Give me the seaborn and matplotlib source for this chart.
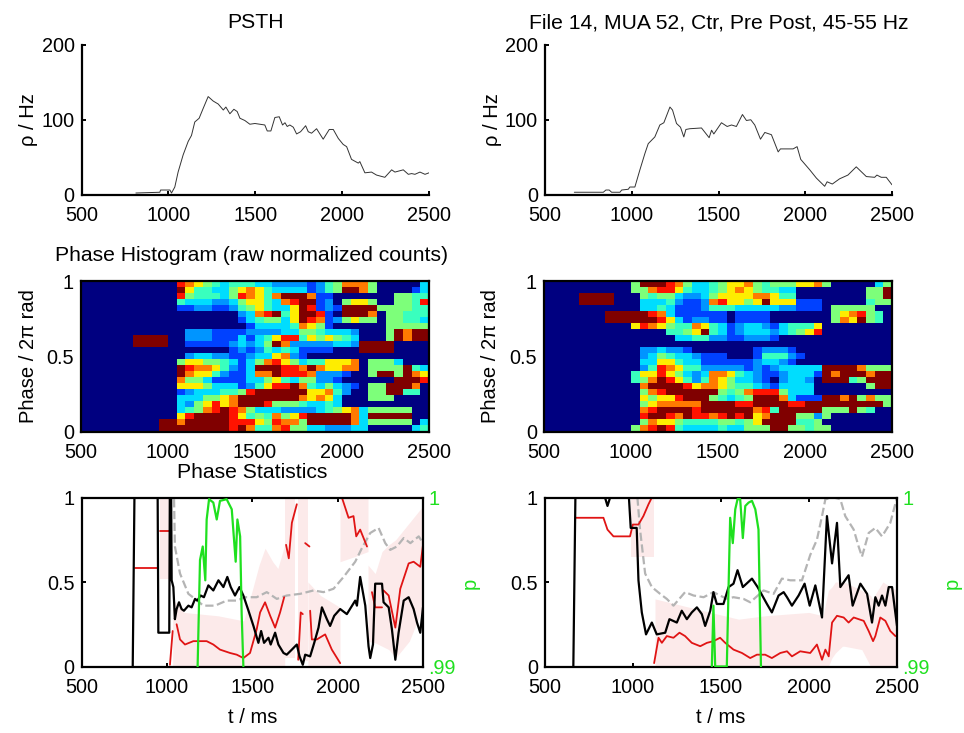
import numpy as np
import matplotlib
matplotlib.use("Agg")
import matplotlib.pyplot as plt
import seaborn as sns

# ---------- data ----------
psth_l_t = [813,951,955,1009,1018,1037,1056,1085,1114,1133,1152,1177,1200,1229,1258,1287,1316,1331,1354,1377,1396,1412,1440,1469,1498,1555,1569,1590,1613,1638,1657,1671,1684,1699,1719,1738,1761,1790,1805,1824,1853,1891,1926,1949,1978,2006,2026,2054,2093,2102,2131,2169,2198,2246,2285,2304,2352,2381,2400,2419,2448,2477,2500]
psth_l_r = [2,3,6,6,2,10,30,53,71,79,97,102,115,131,125,121,113,117,108,114,111,102,99,94,95,93,85,85,103,104,93,96,91,93,90,81,84,92,84,82,88,74,87,87,75,67,64,47,42,44,29,30,26,23,33,30,33,27,28,27,30,27,29]
psth_r_t = [669,836,851,870,884,932,942,980,989,1018,1047,1076,1095,1133,1162,1185,1220,1235,1258,1281,1300,1312,1335,1402,1446,1460,1473,1517,1550,1575,1603,1638,1661,1686,1709,1742,1767,1805,1844,1857,1930,1953,1974,2026,2064,2112,2126,2156,2198,2246,2294,2352,2400,2413,2438,2467,2500]
psth_r_r = [3,3,6,6,3,3,6,7,10,10,33,55,68,77,93,96,117,113,95,90,77,87,88,89,76,86,81,96,91,93,91,107,99,100,93,74,83,80,57,61,61,64,47,33,22,11,17,14,21,26,37,24,23,26,23,23,13]

# normalized count per digit class used in the rows below
hist_levels = [0, .19, .27, .34, .42, .50, .66, .78, .89, 1.0]
hist_l = [
"0000000000 0876543444 3322221245 7775000003",
"0000000000 0964433567 6433331245 9975000013",
"0000000000 0854443587 6479997110 0000005544",
"0000000000 0433322356 6437899120 5665005548",
"0000000000 0112211245 6433698121 9999555544",
"0000000000 0000000023 7894699810 9997055444",
"0000000000 0000000013 4553698712 5655055443",
"0000000000 0000000001 3333476510 0000055555",
"0000000000 0022211112 2223355433 3200059799",
"0000009999 0022211131 3468846565 4300059799",
"0000009999 0011111232 3597222223 3299990000",
"0000000000 0000000121 2434311110 0099990000",
"0000000000 0023322112 3367210000 0000000000",
"0000000000 0566554313 5786534466 6705553000",
"0000000000 0987764213 9998879766 7705555943",
"0000000000 0976642113 7798887222 1005995976",
"0000000000 0755311113 3564355221 0000009998",
"0000000000 0666533312 4688974353 2105599970",
"0000000000 0123334458 9999996674 2005599440",
"0000000000 0333556799 9999976763 0005550000",
"0000000000 0325686799 9855543343 0000000000",
"0000000000 0345789875 3332222345 6735555500",
"0000000000 0689999864 5475689999 9739999900",
"0000000009 9799999888 6587759999 9735555503",
"0000000009 9999999897 4478553322 2330000034",
]
hist_r = [
"0000000000 5999875334 5667545556 6750000035",
"0000000000 5578864334 5676544330 0000000559",
"0000999900 0545532235 6666776440 0000000559",
"0000999900 0333421127 8665696661 1100000455",
"0000000000 0334311124 4433333221 1105555500",
"0000000999 9987311111 1011110000 0005678540",
"0000000999 9998631221 1011110000 0005769540",
"0000000000 6876544764 3123321344 4600000000",
"0000000000 0000445694 3123332345 6800000000",
"0000000000 0000033442 2112221000 0000000000",
"0000000000 0000000000 0000000000 0000000000",
"0000000000 0223221000 0000122210 0000000000",
"0000000000 0235433211 1000144421 0000000000",
"0000000000 0336643311 1111233210 0000000000",
"0000000000 0248764422 2221212333 3399997555",
"0000000000 4668653237 7643211233 3197999799",
"0000000000 4579864247 6533210233 2099945999",
"0000000000 0799998677 6544321333 3000000599",
"0000000000 0578999999 5457888533 3000000000",
"0000000000 0656689995 4345999731 1199795755",
"0000000000 0567777799 9988999988 9999999995",
"0000000000 0789999899 9999784999 9955595400",
"0000000000 0899879887 8989679995 5250000000",
"0000000000 0576654444 5545699994 4500000000",
"0000000000 5789843333 4335559955 4550000000",
]

black_l_t = [800,812,945,950,1014,1018,1024,1028,1038,1047,1057,1071,1086,1100,1126,1145,1165,1178,1198,1217,1243,1272,1302,1331,1354,1374,1399,1425,1448,1478,1507,1536,1552,1569,1595,1608,1634,1653,1683,1702,1732,1761,1777,1796,1810,1839,1863,1888,1908,1937,1956,1980,2015,2054,2103,2113,2132,2162,2181,2191,2207,2220,2260,2269,2299,2318,2338,2357,2387,2416,2445,2465,2484,2500]
black_l_v = [0,1.2,1.2,.2,.2,1.2,1.2,.51,.47,.28,.34,.38,.34,.33,.36,.35,.40,.39,.42,.41,.48,.45,.51,.47,.53,.47,.42,.47,.42,.33,.24,.14,.21,.14,.17,.13,.20,.13,.08,.07,.10,.13,.06,.01,.07,.06,.14,.23,.35,.28,.24,.30,.34,.31,.39,.36,.53,.36,.12,.05,.13,.49,.49,.38,.35,.22,.04,.20,.39,.41,.34,.26,.20,.35]
red_l_segs = [
    ([812,950],[.58,.58]),
    ([960,1014],[.80,.80]),
    ([1018,1034],[.01,.21]),
    ([1057,1077,1106,1155,1184,1233,1272,1311,1370,1409,1448,1487,1526,1546,1575,1605,1634,1663,1687],[.25,.16,.13,.15,.15,.15,.13,.10,.08,.07,.05,.08,.22,.32,.38,.30,.23,.32,.41]),
    ([1698,1714,1732,1761],[.72,.64,.85,.96]),
    ([1769,1784,1796],[.04,.32,.31]),
    ([1839,1849,1878,1927,1966,2015],[.33,.16,.16,.19,.10,.02]),
    ([1810,1835],[.73,.71]),
    ([2025,2064,2093,2109,2132,2172],[1.0,.88,.89,.77,.81,.71]),
    ([2201,2220,2260],[.44,.35,.35]),
    ([2269,2299,2338,2367,2416,2445,2484,2500],[.45,.42,.23,.46,.61,.62,.59,.72]),
]
band_l_segs = [
    ([960,1014],[.52,.52],[1,1]),
    ([1034,1100,1300,1450,1500,1540,1575,1620,1650,1690],[0,0,0,0,0,0,0,0,0,0],[.40,.32,.30,.27,.45,.60,.70,.62,.58,.72]),
    ([1692,1750],[.05,.05],[1,1]),
    ([1768,1826],[.03,.03],[1,1]),
    ([1826,1900,2014],[0,0,0],[.50,.42,.35]),
    ([2014,2100,2178],[.62,.65,.68],[1,1,1]),
    ([2178,2220,2260,2300,2340,2420,2500],[.15,.14,.12,.10,.05,.15,.35],[.60,.55,.68,.72,.75,.85,.95]),
]
grey_l_t = [1042,1047,1077,1126,1165,1214,1282,1350,1409,1458,1526,1585,1644,1702,1781,1859,1917,1976,2035,2103,2142,2191,2240,2279,2308,2347,2387,2426,2475,2500]
grey_l_v = [.99,.71,.55,.43,.40,.36,.36,.39,.39,.41,.41,.44,.40,.42,.43,.45,.44,.46,.53,.62,.70,.79,.82,.73,.69,.71,.76,.73,.77,.73]
green_l_t = [1180,1194,1210,1225,1233,1247,1272,1292,1311,1350,1380,1403,1413,1429,1438,1448]
green_l_p = [.990,.9963,.9971,.9951,.9987,.9999,.9997,.9987,.9998,.9999,.9993,.9962,.9987,.9977,.9931,.990]

black_r_t = [661,675,835,841,855,870,880,974,987,1021,1031,1050,1074,1107,1135,1183,1207,1249,1277,1306,1334,1363,1391,1410,1439,1457,1476,1514,1543,1571,1594,1624,1676,1708,1761,1789,1827,1856,1875,1903,1941,1975,2004,2036,2074,2102,2131,2159,2178,2225,2248,2292,2330,2358,2377,2396,2415,2434,2453,2472,2500]
black_r_v = [0,1.2,1.2,1.0,.95,1.0,1.2,1.05,.82,.82,.51,.32,.19,.26,.19,.20,.28,.26,.33,.28,.32,.35,.31,.24,.33,.44,.37,.37,.47,.49,.57,.47,.52,.47,.37,.32,.42,.44,.41,.36,.42,.49,.36,.48,.29,.89,.61,.85,.47,.54,.36,.49,.43,.26,.41,.36,.42,.36,.47,.47,.24]
red_r_segs = [
    ([675,832,855,889,983,999,1031,1059,1088,1107],[.88,.88,.81,.77,.77,.84,.84,.89,.96,1.0]),
    ([1120,1145,1164,1192,1230,1264,1296,1334,1382,1420,1457,1495,1524,1571,1619,1666,1704,1751,1789,1837,1875,1903,1950,2007,2045,2074,2093,2112,2131,2159,2197,2225,2254,2311,2339,2364,2377,2405,2434,2462,2491],
     [.02,.17,.14,.18,.17,.20,.18,.14,.12,.14,.15,.17,.14,.10,.08,.05,.07,.07,.05,.08,.09,.06,.09,.08,.13,.04,.10,.06,.26,.30,.29,.26,.29,.27,.21,.15,.18,.29,.27,.21,.18]),
]
band_r_segs = [
    ([990,1120],[.65,.65],[1,1]),
    ([1125,1400,1600,1750,2000,2080,2110,2130,2150,2170,2190,2200,2300,2350,2360,2420,2450,2500],
     [0,0,0,0,0,0,0,.05,.08,.10,.12,.12,.10,.0,.0,.0,.0,.0],
     [.40,.33,.28,.30,.32,.30,.45,.47,.50,.50,.50,.50,.45,.42,.40,.50,.48,.45]),
]
grey_r_t = [1025,1040,1069,1107,1154,1192,1230,1296,1344,1401,1457,1533,1571,1628,1666,1742,1799,1846,1894,1960,2007,2045,2074,2093,2140,2178,2206,2254,2282,2301,2339,2377,2415,2462,2500]
grey_r_v = [1.0,.81,.55,.47,.43,.40,.36,.44,.42,.41,.44,.40,.41,.40,.38,.45,.43,.52,.51,.51,.66,.75,.89,.99,1.0,.99,.89,.81,.71,.65,.79,.82,.77,.85,1.0]
green_r_t = [1448,1457,1467,1533,1543,1552,1567,1581,1594,1609,1624,1638,1657,1676,1695,1713,1727]
green_r_p = [.990,.9936,.990,.990,.9947,.9988,.9973,.9993,.9999,.9999,.9976,.9995,.9997,.9998,.9993,.9981,.990]

x_ticks = [500,1000,1500,2000,2500]
title_left = "PSTH"
title_right = "File 14, MUA 52, Ctr, Pre Post, 45-55 Hz"
title_hist = "Phase Histogram (raw normalized counts)"
title_stat = "Phase Statistics"

# ---------- style ----------
sns.set_theme(style="white")
plt.rcParams['font.family'] = ['Liberation Sans', 'DejaVu Sans']
plt.rcParams['text.color'] = 'black'
plt.rcParams['axes.labelcolor'] = 'black'
plt.rcParams['xtick.color'] = 'black'
plt.rcParams['ytick.color'] = 'black'
TICK_FS, TEXT_FS = 14.3, 15.2

W, H = 964, 733
fig = plt.figure(figsize=(W/100, H/100), dpi=100, facecolor='white')

GREEN, RED, PINK, GREY = '#1fe01f', '#e01414', '#fceaea', '#b4b4b4'

def axes_px(l, t, r, b):
    return fig.add_axes([l/W, 1-b/H, (r-l)/W, (b-t)/H])

def finish(ax, box=True):
    ax.tick_params(direction='in', length=3, width=1.4, colors='black', labelsize=TICK_FS,
                   left=True, bottom=True, right=False, top=box)
    ax.tick_params(axis='x', pad=8)
    ax.tick_params(axis='y', pad=5)
    for name, s in ax.spines.items():
        s.set_linewidth(1.6)
        s.set_color('black')
        s.set_visible(box or name in ('left', 'bottom'))

def psth(box, t, r, title):
    ax = axes_px(*box)
    sns.lineplot(x=t, y=r, estimator=None, sort=False, color='#333333', lw=0.7, ax=ax)
    ax.set_xlim(500, 2500); ax.set_ylim(0, 200)
    ax.set_xticks(x_ticks, [str(v) for v in x_ticks]); ax.set_yticks([0,100,200], ['0','100','200'])
    finish(ax, box=False)
    ax.set_ylabel('\u03c1 / Hz', fontsize=TEXT_FS-0.7)
    ax.yaxis.set_label_coords(-0.125, 0.5)
    ax.set_title(title, fontsize=TEXT_FS, pad=12)
    return ax

def hist(box, rows, title=None):
    ax = axes_px(*box)
    m = np.array([[hist_levels[int(c)] for c in r.replace(' ','')] for r in rows], dtype=float)
    sns.heatmap(m, cmap='jet', vmin=0, vmax=1, cbar=False, ax=ax, xticklabels=False, yticklabels=False)
    nr, nc = m.shape
    ax.set_xticks(np.linspace(0, nc, 5), [str(v) for v in x_ticks], rotation=0)
    ax.set_yticks([nr, nr/2, 0], ['0','0.5','1'], rotation=0)
    finish(ax, box=True)
    ax.tick_params(left=False, bottom=False, top=False)
    ax.set_ylabel('Phase / 2\u03c0 rad', fontsize=TEXT_FS-0.7)
    ax.yaxis.set_label_coords(-0.125, 0.5)
    if title:
        ax.text(0.49, 1.167, title, transform=ax.transAxes, ha='center', va='center', fontsize=TEXT_FS)
    return ax

def stats(box, black_t, black_v, red_segs, band_segs, grey_t, grey_v, green_t, green_p, p_x, title=None):
    ax = axes_px(*box)
    for t, lo, hi in band_segs:
        ax.fill_between(t, lo, hi, color=PINK, lw=0)
    sns.lineplot(x=grey_t, y=grey_v, estimator=None, sort=False, color=GREY, lw=1.6, linestyle='--', ax=ax)
    for t, v in red_segs:
        sns.lineplot(x=t, y=v, estimator=None, sort=False, color=RED, lw=1.3, ax=ax)
    sns.lineplot(x=black_t, y=black_v, estimator=None, sort=False, color='black', lw=1.6, ax=ax)
    ax.set_xlim(500, 2500); ax.set_ylim(0, 1)
    ax.set_xticks(x_ticks, [str(v) for v in x_ticks]); ax.set_yticks([0,0.5,1], ['0','0.5','1'])
    finish(ax, box=True)
    ax.set_xlabel('t / ms', fontsize=TEXT_FS-0.7, labelpad=8)
    tw = ax.twinx()
    sns.lineplot(x=green_t, y=green_p, estimator=None, sort=False, color=GREEN, lw=1.6, ax=tw)
    tw.set_xlim(500, 2500); tw.set_ylim(0.99, 1)
    tw.set_yticks([0.99, 1], ['.99', '1'], color=GREEN)
    tw.tick_params(axis='y', length=0, pad=4, labelsize=TICK_FS)
    tw.set_ylabel('')
    for s in tw.spines.values():
        s.set_visible(False)
    fig.text(p_x/W, 1-583/H, 'p', color=GREEN, rotation=90, ha='center', va='center', fontsize=TEXT_FS-0.7)
    if title:
        ax.text(0.5, 1.15, title, transform=ax.transAxes, ha='center', va='center', fontsize=TEXT_FS)
    return ax

psth((81.5,45,429,194.5), psth_l_t, psth_l_r, title_left)
psth((545,45,892,194.5), psth_r_t, psth_r_r, title_right)
hist((81,281,429,431.5), hist_l, title_hist)
hist((544,281,892,431.5), hist_r)
stats((81.5,497.5,423,666.5), black_l_t, black_l_v, red_l_segs, band_l_segs, grey_l_t, grey_l_v, green_l_t, green_l_p, 470, title_stat)
stats((545,497.5,897,666.5), black_r_t, black_r_v, red_r_segs, band_r_segs, grey_r_t, grey_r_v, green_r_t, green_r_p, 952)

fig.savefig('out.png', dpi=100, facecolor='white')
